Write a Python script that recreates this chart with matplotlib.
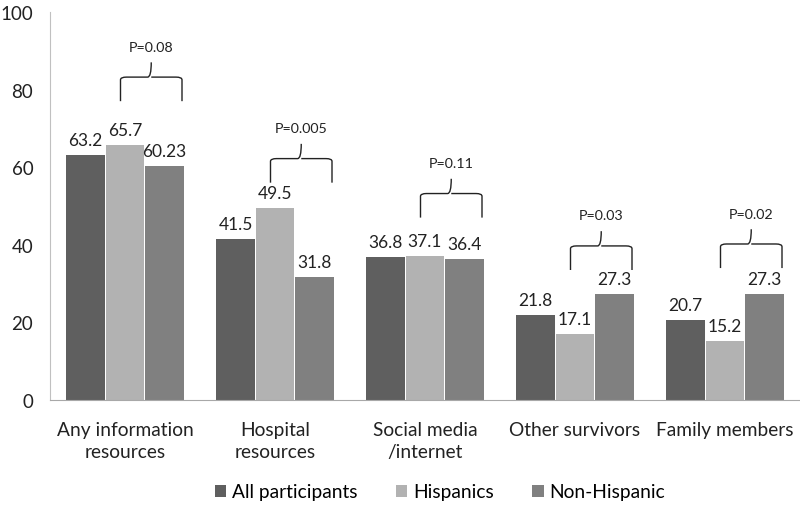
import numpy as np
import matplotlib.pyplot as plt
from matplotlib.path import Path
from matplotlib.patches import PathPatch

plt.rcParams['font.family'] = ['Lato', 'DejaVu Sans']

categories = ["Any information\nresources", "Hospital\nresources", "Social media\n/internet",
              "Other survivors", "Family members"]
all_participants = [63.2, 41.5, 36.8, 21.8, 20.7]
hispanics = [65.7, 49.5, 37.1, 17.1, 15.2]
non_hispanic = [60.23, 31.8, 36.4, 27.3, 27.3]
labels_all = ["63.2", "41.5", "36.8", "21.8", "20.7"]
labels_his = ["65.7", "49.5", "37.1", "17.1", "15.2"]
labels_non = ["60.23", "31.8", "36.4", "27.3", "27.3"]
p_values = ["P=0.08", "P=0.005", "P=0.11", "P=0.03", "P=0.02"]
brace_base = [77, 56, 47, 33.5, 34]

colors = ["#5f5f5f", "#b2b2b2", "#808080"]

fig = plt.figure(figsize=(8, 5.06), dpi=100)
ax = fig.add_axes([0.0625, 0.2075, 0.9375, 0.767])

x = np.arange(len(categories))
w = 0.262
series = [(all_participants, labels_all, "All participants"),
          (hispanics, labels_his, "Hispanics"),
          (non_hispanic, labels_non, "Non-Hispanic")]
for k, (vals, labs, name) in enumerate(series):
    pos = x + (k - 1) * w
    ax.bar(pos, vals, width=w - 0.005, color=colors[k], label=name)
    for px, v, t in zip(pos, vals, labs):
        ax.annotate(t, (px, v), xytext=(0, 5), textcoords="offset points",
                    ha="center", va="bottom", fontsize=12.5, color="#222222")


def brace(ax, x0, x1, y, h):
    xm = (x0 + x1) / 2
    r = 0.04
    verts = [(x0, y), (x0, y + h * 0.55), (x0, y + h * 0.62), (x0 + r, y + h * 0.62),
             (xm - r * 0.6, y + h * 0.62), (xm, y + h * 0.62), (xm, y + h),
             (xm, y + h * 0.62), (xm + r * 0.6, y + h * 0.62),
             (x1 - r, y + h * 0.62), (x1, y + h * 0.62), (x1, y + h * 0.55), (x1, y)]
    codes = [Path.MOVETO, Path.LINETO, Path.CURVE3, Path.CURVE3,
             Path.LINETO, Path.CURVE3, Path.CURVE3,
             Path.MOVETO, Path.CURVE3, Path.LINETO,
             Path.CURVE3, Path.CURVE3, Path.LINETO]
    ax.add_patch(PathPatch(Path(verts, codes), fill=False, lw=1.0, color="#222222"))


for i in range(len(categories)):
    x0 = i - 0.03
    x1 = i + 0.38
    base = brace_base[i]
    brace(ax, x0, x1, base, 10)
    ax.text((x0 + x1) / 2, base + 12.5, p_values[i], ha="center", va="bottom",
            fontsize=10.3, color="#222222")

ax.set_xlim(-0.5, 4.5)
ax.set_ylim(0, 100)
ax.set_yticks([0, 20, 40, 60, 80, 100])
ax.set_xticks(x)
ax.set_xticklabels(categories, fontsize=13.8, linespacing=1.4)
ax.tick_params(axis="y", labelsize=13.5, length=0, pad=12, labelcolor="#222222")
ax.tick_params(axis="x", length=0, pad=15, labelcolor="#222222")
for s in ["top", "right"]:
    ax.spines[s].set_visible(False)
ax.spines["left"].set_color("#c0c0c0")
ax.spines["bottom"].set_color("#a8a8a8")

fig.legend(loc="lower center", bbox_to_anchor=(0.55, -0.025), ncol=3, frameon=False,
           fontsize=13.8, handlelength=0.6, handleheight=0.6, handletextpad=0.3,
           columnspacing=2.0)

fig.savefig("out.png", dpi=100)
